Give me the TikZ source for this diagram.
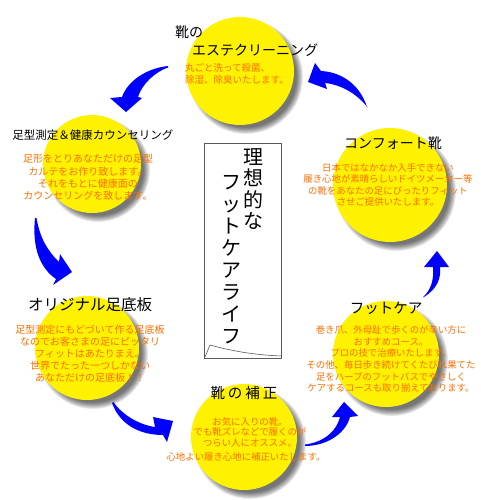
\documentclass[tikz,border=0pt]{standalone}
\usepackage{fontspec}
\setmainfont{Noto Sans CJK JP}
\definecolor{otxt}{RGB}{255,110,0}
\definecolor{arrowblue}{RGB}{0,0,255}
\definecolor{boxline}{RGB}{90,90,90}
\newcommand\ycircle[4]{%
  \foreach \k in {0,...,8}{\fill[black,opacity=0.08] (#2+6,#3+6) circle ({(#4+3-\k*0.8)*1pt});}%
  \fill[yellow] (#2,#3) circle ({#4*1pt});%
  \coordinate (#1) at (#2,#3);%
}
\begin{document}
\begin{tikzpicture}[x=1pt,y=-1pt,
  title/.style={font=\fontsize{14}{16}\selectfont, inner sep=0, text=black},
  body/.style={font=\fontsize{9.4}{11.6}\selectfont, text=otxt, inner sep=0, align=center},
  arr/.style={fill=arrowblue, draw=none},
  vert/.style={font=\fontsize{20}{21.5}\selectfont, inner sep=0, align=center}]
\useasboundingbox[fill=white] (0,0) rectangle (480,500);

% circles with soft shadows
\ycircle{c1}{240}{71}{54}
\ycircle{c2}{390}{185}{57}
\ycircle{c3}{92}{164}{49}
\ycircle{c4}{87}{348}{52}
\ycircle{c5}{386}{354}{53}
\ycircle{c6}{244}{437}{53}

% circle 1
\node[title, anchor=west] (t1a) at (175,32) {靴の};
\node[title, anchor=west] (t1b) at (192,50) {エステクリーニング};
\node[body, anchor=west, align=left, font=\fontsize{9.5}{12}\selectfont] (b1) at (185,74) {丸ごと洗って殺菌、\\除湿、除臭いたします。};

% circle 2
\node[title] (t2) at (393,143) {コンフォート靴};
\node[body, font=\fontsize{9.4}{11.3}\selectfont] (b2) at (388,185) {日本ではなかなか入手できない\\履き心地が素晴らしいドイツメーカー等\\の靴をあなたの足にぴったりフィット\\させご提供いたします。};

% circle 3
\node[title, font=\fontsize{11.5}{13}\selectfont] (t3) at (93,135) {足型測定＆健康カウンセリング};
\node[body, font=\fontsize{10}{12.2}\selectfont] (b3) at (88,177.5) {足形をとりあなただけの足型\\カルテをお作り致します。\\それをもとに健康面の\\カウンセリングを致します。};

% circle 4
\node[title, font=\fontsize{15.5}{17}\selectfont] (t4) at (90,305) {オリジナル足底板};
\node[body, font=\fontsize{10}{12}\selectfont] (b4) at (90,354) {足型測定にもどづいて作る足底板\\なのでお客さまの足にピッタリ\\フィットはあたりまえ。\\世界でたった一つしかない\\あなただけの足底板！！};

% circle 5
\node[title, font=\fontsize{14.5}{16}\selectfont] (t5) at (386,308) {フットケア};
\node[body, font=\fontsize{9.4}{11.6}\selectfont] (b5) at (391,359) {巻き爪、外母趾で歩くのが辛い方に\\おすすめコース。\\プロの技で治療いたします。\\その他、毎日歩き続けてくたびれ果てた\\足をハーブのフットバスでやさしく\\ケアするコースも取り揃えております。};

% circle 6
\node[title, font=\fontsize{14.5}{16}\selectfont] (t6) at (244,393) {靴\hspace{3pt}の\hspace{3pt}補\hspace{3pt}正};
\node[body, font=\fontsize{9.4}{10.5}\selectfont] (b6) at (250,432) {お気に入りの靴。\\でも靴ズレなどで履くのが\\つらい人にオススメ。};
\node[body, font=\fontsize{9.4}{10.5}\selectfont] (b6b) at (246,457) {心地よい履き心地に補正いたします。};

% centre box
\node[draw=boxline, fill=white, line width=0.8pt, minimum width=77pt, minimum height=215pt, inner sep=0] (box) at (242.5,250.5) {};
\draw[boxline, line width=0.6pt] (205,357) -- (210,345) .. controls (235,352) and (258,355) .. (281,356);
\node[vert] (v1) at (253,189) {理\\想\\的\\な};
\node[vert, font=\fontsize{20}{22}\selectfont] (v2) at (231,260) {フ\\ッ\\ト\\ケ\\ア\\ラ\\イ\\フ};

% tapered arrows
% c1 -> c3
\fill[arr] (168,66) .. controls (148,68) and (128,80) .. (122,97) -- (110,98) -- (126,112) -- (142,98) -- (138,97) .. controls (142,84) and (155,72) .. (168,67.5) -- cycle;
% c2 -> c1
\fill[arr] (367,107) .. controls (360,85) and (342,72) .. (321,71) -- (315,63) -- (308,82) -- (327,89) -- (325,83) .. controls (343,85) and (358,95) .. (368,108) -- cycle;
% c3 -> c4
\fill[arr] (35,218) .. controls (32,248) and (40,268) .. (56,279) -- (53,285) -- (72,272) -- (60,254) -- (59,262) .. controls (47,250) and (40,238) .. (36.5,218) -- cycle;
% c4 -> c6
\fill[arr] (112,403) .. controls (120,425) and (140,435) .. (163,435) -- (167,442) -- (173,421) -- (153,417) -- (155,427) .. controls (140,425) and (122,415) .. (113.5,402) -- cycle;
% c6 -> c5
\fill[arr] (305,446) .. controls (325,446) and (345,435) .. (350,417) -- (358,416) -- (344,402) -- (332,417) -- (340,417) .. controls (337,430) and (325,442) .. (305,444.5) -- cycle;
% c5 -> c2
\fill[arr] (424,297) .. controls (438,288) and (441,278) .. (440,267) -- (449,267) -- (437,251) -- (424,267) -- (433,267) .. controls (434,280) and (431,290) .. (423,297) -- cycle;
\end{tikzpicture}
\end{document}
